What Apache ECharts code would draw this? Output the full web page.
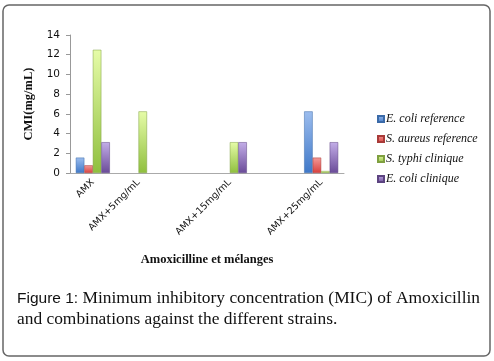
<!DOCTYPE html>
<html>
<head>
<meta charset="utf-8">
<script src="https://cdn.jsdelivr.net/npm/echarts@6/dist/echarts.min.js"></script>
<style>
html, body { margin: 0; padding: 0; background: #fff; }
#chart { width: 494px; height: 361px; }
</style>
</head>
<body>
<div id="chart"></div>
<script>
var categories = ['AMX', 'AMX+5mg/mL', '', 'AMX+15mg/mL', '', 'AMX+25mg/mL'];
var ecoliRef = [1.56, null, null, null, null, 6.25];
var saureusRef = [0.78, null, null, null, null, 1.56];
var styphiClin = [12.5, 6.25, null, 3.125, null, 0.2];
var ecoliClin = [3.125, null, null, 3.125, null, 3.125];
var seriesNames = ['E. coli reference', 'S. aureus reference', 'S. typhi clinique', 'E. coli clinique'];

function grad(top, bottom) {
    return new echarts.graphic.LinearGradient(0, 0, 0, 1, [
        { offset: 0, color: top },
        { offset: 1, color: bottom }
    ]);
}

var myChart = echarts.init(document.getElementById('chart'));
var option = {
    animation: false,
    title: {
        left: 12,
        top: 283,
        text: '{b|Figure 1:} Minimum inhibitory concentration (MIC) of Amoxicillin\nand combinations against the different strains.',
        textStyle: {
            fontFamily: 'Liberation Serif',
            fontSize: 17.4,
            fontWeight: 'normal',
            color: '#111',
            lineHeight: 21,
            rich: {
                b: { fontFamily: 'Liberation Sans', fontSize: 15.5, color: '#111' }
            }
        }
    },
    graphic: [{
        type: 'rect',
        shape: { x: 3, y: 5, width: 487, height: 351, r: 6 },
        style: { fill: 'none', stroke: '#666', lineWidth: 1.5 }
    }],
    legend: {
        orient: 'vertical',
        left: 372,
        top: 108,
        itemWidth: 6,
        itemHeight: 6,
        itemGap: 8,
        icon: 'rect',
        data: seriesNames,
        textStyle: {
            fontFamily: 'Liberation Serif',
            fontStyle: 'italic',
            fontSize: 12,
            color: '#111',
            padding: [0, 0, 0, -3]
        }
    },
    grid: { left: 70, top: 35, width: 274, height: 138 },
    xAxis: {
        type: 'category',
        data: categories,
        name: 'Amoxicilline et mélanges',
        nameLocation: 'middle',
        nameGap: 80,
        nameTextStyle: {
            fontFamily: 'Liberation Serif',
            fontWeight: 'bold',
            fontSize: 12.5,
            color: '#111'
        },
        axisLine: { lineStyle: { color: '#aaa' } },
        axisTick: { show: false },
        axisLabel: {
            rotate: 45,
            interval: 0,
            fontFamily: 'DejaVu Sans',
            fontSize: 9.5,
            color: '#111',
            margin: 8
        }
    },
    yAxis: {
        type: 'value',
        min: 0,
        max: 14,
        interval: 2,
        name: 'CMI(mg/mL)',
        nameLocation: 'middle',
        nameGap: 28,
        nameTextStyle: {
            fontFamily: 'Liberation Serif',
            fontWeight: 'bold',
            fontSize: 12.5,
            color: '#111'
        },
        axisLine: { show: true, lineStyle: { color: '#999' } },
        axisTick: { show: true, length: 4, lineStyle: { color: '#999' } },
        splitLine: { show: false },
        axisLabel: {
            fontFamily: 'DejaVu Sans',
            fontSize: 10.5,
            color: '#111',
            margin: 10
        }
    },
    series: [
        {
            name: seriesNames[0],
            type: 'bar',
            barWidth: 8.5,
            barGap: '0%',
            itemStyle: { color: grad('#9cbdee', '#3f78c8'), borderColor: '#3a6aa8', borderWidth: 0.5 },
            data: ecoliRef
        },
        {
            name: seriesNames[1],
            type: 'bar',
            barWidth: 8.5,
            itemStyle: { color: grad('#f39a98', '#d8403d'), borderColor: '#a83a38', borderWidth: 0.5 },
            data: saureusRef
        },
        {
            name: seriesNames[2],
            type: 'bar',
            barWidth: 8.5,
            itemStyle: { color: grad('#e6fca8', '#8fbf3e'), borderColor: '#7f9f40', borderWidth: 0.5 },
            data: styphiClin
        },
        {
            name: seriesNames[3],
            type: 'bar',
            barWidth: 8.5,
            itemStyle: { color: grad('#c3aee8', '#6a4b98'), borderColor: '#5c4380', borderWidth: 0.5 },
            data: ecoliClin
        }
    ]
};
myChart.setOption(option);
window.addEventListener('resize', function () {
    myChart.resize();
});
</script>
</body>
</html>
